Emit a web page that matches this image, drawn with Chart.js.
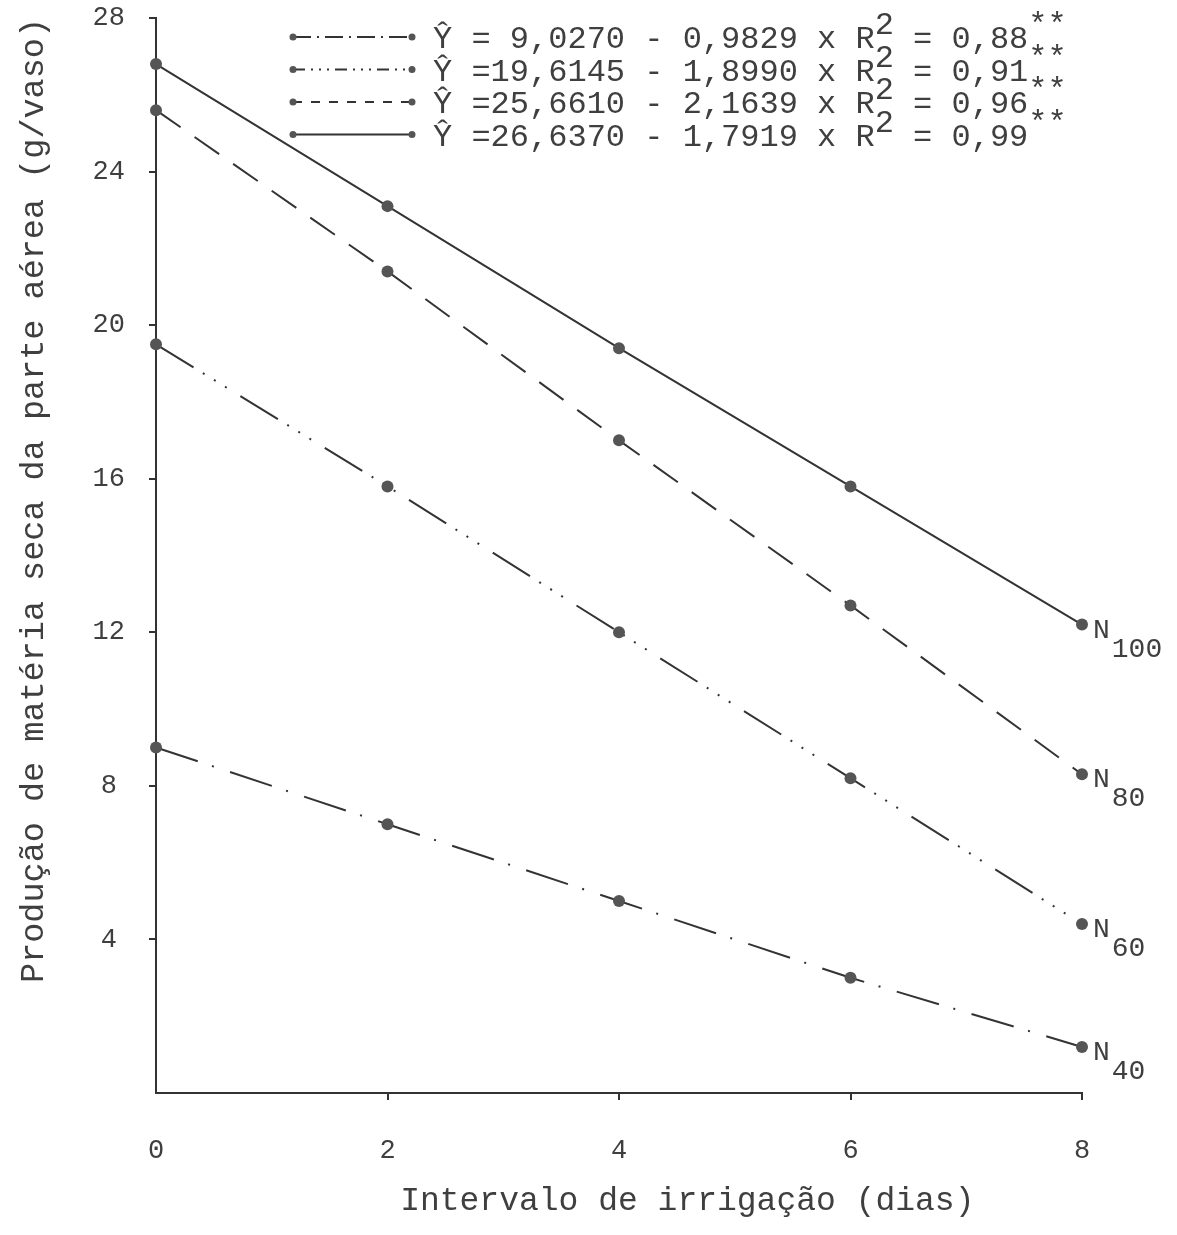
<!DOCTYPE html>
<html>
<head>
<meta charset="utf-8">
<script src="https://cdn.jsdelivr.net/npm/chart.js@4.4.0/dist/chart.umd.min.js"></script>
<style>
  body { margin: 0; background: #ffffff; }
</style>
</head>
<body>
<canvas id="chart" width="1177" height="1235"></canvas>
<script>
// Intervalo de irrigação (dias)
const days = [0, 2, 4, 6, 8];

// Produção de matéria seca da parte aérea (g/vaso) for each N dose
const n40 = [9.0, 7.0, 5.0, 3.0, 1.2];
const n60 = [19.5, 15.8, 12.0, 8.2, 4.4];
const n80 = [25.6, 21.4, 17.0, 12.7, 8.3];
const n100 = [26.8, 23.1, 19.4, 15.8, 12.2];

// legend equations (top to bottom = N40, N60, N80, N100)
const equations = [
    "Ŷ = 9,0270 - 0,9829 x R",
    "Ŷ =19,6145 - 1,8990 x R",
    "Ŷ =25,6610 - 2,1639 x R",
    "Ŷ =26,6370 - 1,7919 x R"
];
const r2Values = ["0,88", "0,91", "0,96", "0,99"];
const doseLabels = ["40", "60", "80", "100"];

const INK = "#333333";
const TEXT = "#3f3f3f";
const MONO = "'Liberation Mono', 'DejaVu Sans Mono', monospace";

// dash patterns used on the plot and (shorter) in the legend
const plotDash = [[44, 15, 2, 17], [44, 11, 2, 11, 2, 11, 2, 16], [30, 17], []];
const legendDash = [[18, 6, 2, 6], [12, 6, 2, 6, 2, 6, 2, 6], [9, 9], []];

function toPoints(values) {
    return days.map((d, i) => ({ x: d, y: values[i] }));
}

function makeDataset(label, values, dash) {
    return {
        label: label,
        data: toPoints(values),
        borderColor: INK,
        borderWidth: 2,
        borderDash: dash,
        pointRadius: 6,
        pointBackgroundColor: "#555555",
        pointBorderWidth: 0,
        tension: 0,
        clip: false
    };
}

// draws the equation legend, the N labels and the x axis title
const annotations = {
    id: "annotations",
    afterDraw(chart) {
        const ctx = chart.ctx;
        ctx.save();

        // legend block
        ctx.font = "32px " + MONO;
        ctx.fillStyle = TEXT;
        ctx.textBaseline = "alphabetic";
        ctx.textAlign = "left";
        const cw = ctx.measureText("0").width;
        for (let i = 0; i < 4; i++) {
            const ly = 37 + i * 32.5;
            ctx.strokeStyle = INK;
            ctx.lineWidth = 2;
            ctx.setLineDash(legendDash[i]);
            ctx.beginPath();
            ctx.moveTo(293, ly);
            ctx.lineTo(412, ly);
            ctx.stroke();
            ctx.setLineDash([]);
            ctx.fillStyle = "#555555";
            [293, 412].forEach(px => {
                ctx.beginPath();
                ctx.arc(px, ly, 3.5, 0, Math.PI * 2);
                ctx.fill();
            });

            ctx.fillStyle = TEXT;
            const base = ly + 11;
            let x = 433;
            ctx.fillText(equations[i], x, base);
            x += ctx.measureText(equations[i]).width;
            ctx.fillText("2", x, base - 14);
            x += cw;
            const tail = " = " + r2Values[i];
            ctx.fillText(tail, x, base);
            x += ctx.measureText(tail).width;
            ctx.fillText("**", x, base - 14);
        }

        // N labels at the end of each line
        ctx.font = "28px " + MONO;
        const ncw = ctx.measureText("N").width;
        chart.data.datasets.forEach((ds, i) => {
            const last = chart.getDatasetMeta(i).data[days.length - 1];
            ctx.fillText("N", last.x + 11, last.y + 13);
            ctx.fillText(doseLabels[i], last.x + 13 + ncw, last.y + 32);
        });

        // x axis title
        ctx.font = "33px " + MONO;
        ctx.textAlign = "center";
        ctx.textBaseline = "middle";
        const xs = chart.scales.x;
        ctx.fillText("Intervalo de irrigação (dias)", xs.getPixelForValue(4.59), 1201);

        ctx.restore();
    }
};

const hideZero = c => (c.tick && c.tick.value === 0) ? "rgba(0,0,0,0)" : INK;

new Chart(document.getElementById("chart"), {
    type: "line",
    data: {
        datasets: [
            makeDataset("N40", n40, plotDash[0]),
            makeDataset("N60", n60, plotDash[1]),
            makeDataset("N80", n80, plotDash[2]),
            makeDataset("N100", n100, plotDash[3])
        ]
    },
    options: {
        responsive: false,
        animation: false,
        layout: { padding: { top: 18, right: 95, left: 0, bottom: 0 } },
        plugins: {
            legend: { display: false },
            tooltip: { enabled: false }
        },
        scales: {
            x: {
                type: "linear",
                min: 0,
                max: 8,
                ticks: {
                    stepSize: 2,
                    color: TEXT,
                    font: { family: MONO, size: 27 },
                    padding: 35,
                    maxRotation: 0
                },
                grid: { drawOnChartArea: false, tickLength: 7, color: hideZero, lineWidth: 2 },
                border: { display: true, color: INK, width: 2 },
                afterFit(scale) { scale.height = 142; }
            },
            y: {
                min: 0,
                max: 28,
                ticks: {
                    stepSize: 4,
                    color: TEXT,
                    font: { family: MONO, size: 27 },
                    padding: 24,
                    crossAlign: "center",
                    callback: v => v === 0 ? "" : v
                },
                grid: { drawOnChartArea: false, tickLength: 7, color: hideZero, lineWidth: 2 },
                border: { display: true, color: INK, width: 2 },
                title: {
                    display: true,
                    text: "Produção de matéria seca da parte aérea (g/vaso)",
                    align: "end",
                    color: TEXT,
                    font: { family: MONO, size: 33.5 },
                    padding: { top: 14, bottom: 0 }
                },
                afterFit(scale) {
                    scale.width = 156;
                    // keep the tick padding from pushing the plot top down
                    scale.paddingTop = 0;
                    scale.paddingBottom = 0;
                }
            }
        }
    },
    plugins: [annotations]
});
</script>
</body>
</html>
